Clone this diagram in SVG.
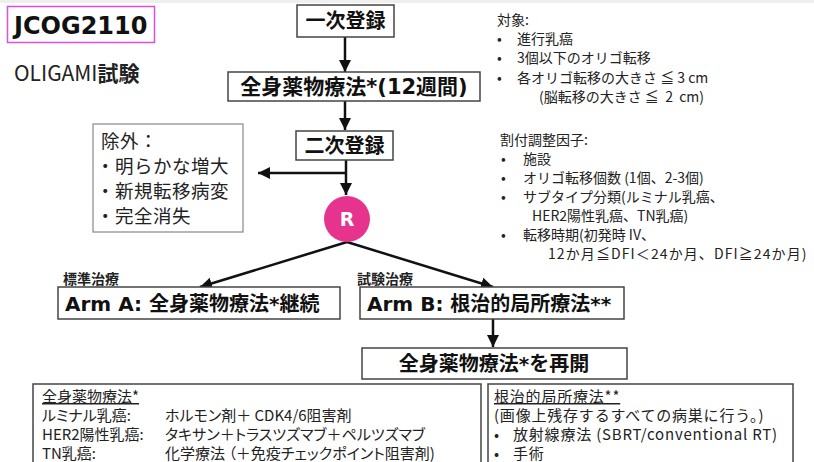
<svg xmlns="http://www.w3.org/2000/svg" width="814" height="462" viewBox="0 0 814 462">
<defs>
<style>
.jp{font-family:"Noto Sans CJK JP","Noto Sans",sans-serif;fill:#222}
.tb{font-family:"DejaVu Sans","Noto Sans CJK JP",sans-serif;font-weight:bold;fill:#111}
.box{fill:#fff;stroke:#444;stroke-width:1.5}
.gbox{fill:#fff;stroke:#888;stroke-width:1.2}
.ar{stroke:#111;stroke-width:2.5;fill:none}
.s14{font-size:14px}
.s15{font-size:15px}
.palt{font-feature-settings:"palt" 1}
</style>
<marker id="ah" markerWidth="12" markerHeight="12" refX="10" refY="5" orient="auto" markerUnits="userSpaceOnUse" viewBox="0 0 10 10">
<path d="M0,0 L10,5 L0,10 z" fill="#111"/>
</marker>
</defs>
<rect x="0" y="0" width="814" height="462" fill="#fff"/>
<rect x="0" y="0" width="814" height="3" fill="#efefef"/>

<g id="title">
<rect x="7.5" y="6.5" width="147" height="36" fill="#fff" stroke="#e04ee0" stroke-width="1.5"/>
<text x="14" y="34" class="tb" font-size="24">JCOG2110</text>
<text x="14" y="81" class="jp" font-size="21">OLIGAMI<tspan font-weight="bold">試験</tspan></text>
</g>

<g id="connectors">
<line x1="345" y1="37" x2="345" y2="72" class="ar" marker-end="url(#ah)"/>
<line x1="345" y1="101" x2="345" y2="130" class="ar" marker-end="url(#ah)"/>
<line x1="346" y1="160" x2="346" y2="195" class="ar" marker-end="url(#ah)"/>
<line x1="347" y1="173" x2="258" y2="173" class="ar" marker-end="url(#ah)"/>
<line x1="347" y1="242" x2="200" y2="287" class="ar" marker-end="url(#ah)"/>
<line x1="347" y1="242" x2="493" y2="287" class="ar" marker-end="url(#ah)"/>
<line x1="493" y1="319" x2="493" y2="347" class="ar" marker-end="url(#ah)"/>
</g>

<g id="reg1">
<rect x="297" y="5" width="97" height="32" class="box"/>
<text x="345.5" y="28" class="tb" font-size="20" text-anchor="middle">一次登録</text>
</g>

<g id="chemo12">
<rect x="228" y="72" width="252" height="29" class="box"/>
<text x="354" y="94" class="tb" font-size="21" text-anchor="middle">全身薬物療法*(12週間)</text>
</g>

<g id="reg2">
<rect x="296" y="131" width="97" height="29" class="box"/>
<text x="344.5" y="153" class="tb" font-size="20" text-anchor="middle">二次登録</text>
</g>

<g id="exclusion">
<rect x="93" y="124" width="150" height="108" class="gbox"/>
<text class="jp" font-size="18.5" letter-spacing="0.5">
<tspan x="101" y="148">除外：</tspan>
<tspan x="96" y="173">・明らかな増大</tspan>
<tspan x="96" y="198">・新規転移病変</tspan>
<tspan x="96" y="223">・完全消失</tspan>
</text>
</g>

<g id="random">
<circle cx="347" cy="219" r="23" fill="#e5338e"/>
<text x="347" y="226" font-family="DejaVu Sans,sans-serif" font-weight="bold" font-size="19" fill="#fff" text-anchor="middle">R</text>
</g>

<g id="armA">
<text x="63" y="284" class="jp" font-size="14" font-weight="bold">標準治療</text>
<rect x="58" y="287" width="282" height="32" class="box"/>
<text x="65" y="311" class="tb" font-size="20">Arm A: 全身薬物療法*継続</text>
</g>

<g id="armB">
<text x="357" y="284" class="jp" font-size="14" font-weight="bold">試験治療</text>
<rect x="360" y="287" width="264" height="32" class="box"/>
<text x="367" y="311" class="tb" font-size="20">Arm B: 根治的局所療法**</text>
</g>

<g id="resume">
<rect x="362" y="348" width="265" height="31" class="box"/>
<text x="494" y="371" class="tb" font-size="20" text-anchor="middle">全身薬物療法*を再開</text>
</g>

<g id="eligibility">
<text class="jp s14" xml:space="preserve"><tspan x="497" y="25">対象:</tspan><tspan x="497" y="44">•</tspan><tspan x="517" y="44">進行乳癌</tspan><tspan x="497" y="63">•</tspan><tspan x="517" y="63">3個以下のオリゴ転移</tspan><tspan x="497" y="83">•</tspan><tspan x="517" y="83">各オリゴ転移の大きさ ≦ 3 cm</tspan><tspan x="539" y="102">(脳転移の大きさ ≦  2  cm)</tspan></text>
</g>

<g id="factors">
<text class="jp s14">
<tspan x="500" y="145">割付調整因子:</tspan>
<tspan x="501" y="164">•</tspan><tspan x="523" y="164">施設</tspan>
<tspan x="501" y="183">•</tspan><tspan x="523" y="183">オリゴ転移個数 (1個、2-3個)</tspan>
<tspan x="501" y="202">•</tspan><tspan x="523" y="202">サブタイプ分類(ルミナル乳癌、</tspan>
<tspan x="532" y="221">HER2陽性乳癌、TN乳癌)</tspan>
<tspan x="501" y="240">•</tspan><tspan x="523" y="240">転移時期(初発時 IV、</tspan>
<tspan x="548" y="259" letter-spacing="1.1">12か月≦DFI＜24か月、DFI≧24か月)</tspan>
</text>
</g>

<g id="chemo-detail">
<rect x="33" y="384" width="448" height="90" class="box"/>
<text class="jp s15">
<tspan x="42" y="402" text-decoration="underline">全身薬物療法*</tspan>
<tspan x="42" y="421" class="palt">ルミナル乳癌:</tspan><tspan x="165" y="421" class="palt">ホルモン剤＋ CDK4/6阻害剤</tspan>
<tspan x="42" y="440" class="palt">HER2陽性乳癌:</tspan><tspan x="165" y="440" class="palt">タキサン＋トラスツズマブ＋ペルツズマブ</tspan>
<tspan x="42" y="459" class="palt">TN乳癌:</tspan><tspan x="165" y="459" class="palt">化学療法 （＋免疫チェックポイント阻害剤)</tspan>
</text>
</g>

<g id="local-detail">
<rect x="488" y="384" width="305" height="90" class="box"/>
<text class="jp s15" letter-spacing="0.8">
<tspan x="494" y="402" text-decoration="underline">根治的局所療法**</tspan>
<tspan x="494" y="421">(画像上残存するすべての病巣に行う。)</tspan>
<tspan x="494" y="440">•</tspan><tspan x="513" y="440">放射線療法 (SBRT/conventional RT)</tspan>
<tspan x="494" y="459">•</tspan><tspan x="513" y="459">手術</tspan>
</text>
</g>
</svg>
